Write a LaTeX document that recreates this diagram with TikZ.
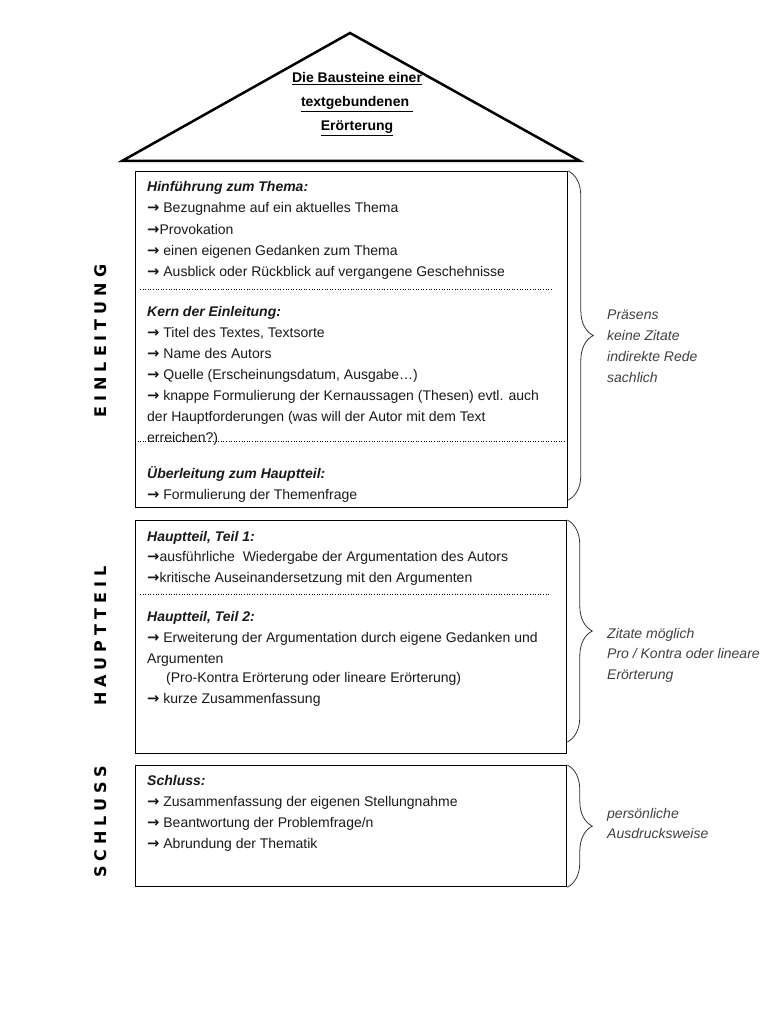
\documentclass[tikz,border=0pt]{standalone}
\usepackage{fontspec}
\setmainfont{Liberation Sans}
\newfontfamily\sidefont[LetterSpace=31, BoldFont={DejaVu Sans Bold}]{DejaVu Sans}
\newfontfamily\arrowfont[Scale=1.05, BoldFont={DejaVu Sans Bold}]{DejaVu Sans}
\newcommand\pfeil{{\arrowfont\bfseries →}}
\usetikzlibrary{decorations.pathreplacing}

\tikzset{
    box/.style={draw, line width=1.3pt, anchor=north west, inner sep=0pt},
    txt/.style={anchor=base west, inner sep=0pt, text=black!90, font=\fontsize{14}{16}\selectfont},
    head/.style={txt, font=\fontsize{14}{16}\selectfont\bfseries\itshape},
    note/.style={txt, text=black!75, font=\fontsize{14}{16}\selectfont\itshape},
    titel/.style={anchor=base, inner sep=0pt, font=\fontsize{14}{16}\selectfont\bfseries},
    side/.style={rotate=90, inner sep=0pt, font=\fontsize{16}{16}\sidefont\bfseries},
    divider/.style={dotted, line width=0.6pt},
    bracket/.style={decorate, decoration={brace, amplitude=25pt}, line width=0.8pt, black!80},
}

\begin{document}
\begin{tikzpicture}[x=1pt, y=-1pt]
    \useasboundingbox (0,0) rectangle (768,1024);

    % roof
    \draw[line width=2.5pt] (122,161) -- (350,33) -- (580,161) -- cycle;
    \node[titel] (t1) at (357,83) {\underline{Die Bausteine einer}};
    \node[titel] (t2) at (357,107) {\underline{textgebundenen\ }};
    \node[titel] (t3) at (357,131) {\underline{Erörterung}};

    % boxes
    \node[box, minimum width=432pt, minimum height=336pt] (einl) at (135,171) {};
    \node[box, minimum width=431pt, minimum height=233pt] (haupt) at (135,520) {};
    \node[box, minimum width=431pt, minimum height=121pt] (schl) at (135,765) {};

    \draw[divider] (140,289) -- (553,289);
    \draw[divider] (135,441) -- (567,441);
    \draw[divider] (140,594) -- (550,594);

    % side labels
    \node[side] (l1) at (101,341) {EINLEITUNG};
    \node[side] (l2) at (101,636) {HAUPTTEIL};
    \node[side] (l3) at (101,822) {SCHLUSS};

    % Einleitung
    \node[head] (h1) at (147,192) {Hinführung zum Thema:};
    \foreach \t [count=\i from 0] in {{\pfeil{} Bezugnahme auf ein aktuelles Thema}, {\pfeil Provokation},
        {\pfeil{} einen eigenen Gedanken zum Thema}, {\pfeil{} Ausblick oder Rückblick auf vergangene Geschehnisse}}
        \node[txt] (hin\i) at (147,213+21*\i) {\t};

    \node[head] (h2) at (147,316) {Kern der Einleitung:};
    \foreach \t [count=\i from 0] in {{\pfeil{} Titel des Textes, Textsorte}, {\pfeil{} Name des Autors},
        {\pfeil{} Quelle (Erscheinungsdatum, Ausgabe…)},
        {\pfeil{} knappe Formulierung der Kernaussagen (Thesen) evtl. auch},
        {der Hauptforderungen (was will der Autor mit dem Text}, {erreichen?)}}
        \node[txt] (kern\i) at (147,337+21*\i) {\t};

    \node[head] (h3) at (147,478) {Überleitung zum Hauptteil:};
    \node[txt] (ueb0) at (147,499) {\pfeil{} Formulierung der Themenfrage};

    % Hauptteil
    \node[head] (h4) at (147,541) {Hauptteil, Teil 1:};
    \node[txt] (ha0) at (147,561) {\pfeil ausführliche\ \ Wiedergabe der Argumentation des Autors};
    \node[txt] (ha1) at (147,582) {\pfeil kritische Auseinandersetzung mit den Argumenten};

    \node[head] (h5) at (147,621) {Hauptteil, Teil 2:};
    \node[txt] (hb0) at (147,642) {\pfeil{} Erweiterung der Argumentation durch eigene Gedanken und};
    \node[txt] (hb1) at (147,663) {Argumenten};
    \node[txt] (hb2) at (166,682) {(Pro-Kontra Erörterung oder lineare Erörterung)};
    \node[txt] (hb3) at (147,703) {\pfeil{} kurze Zusammenfassung};

    % Schluss
    \node[head] (h6) at (147,785) {Schluss:};
    \foreach \t [count=\i from 0] in {{\pfeil{} Zusammenfassung der eigenen Stellungnahme},
        {\pfeil{} Beantwortung der Problemfrage/n}, {\pfeil{} Abrundung der Thematik}}
        \node[txt] (sch\i) at (147,806+21*\i) {\t};

    % braces and notes
    \draw[bracket] (einl.north east) -- (einl.east |- 0,500);
    \draw[bracket] (haupt.north east) -- (haupt.east |- 0,742);
    \draw[bracket] (schl.north east) -- (schl.south east);

    \foreach \t [count=\i from 0] in {Präsens, keine Zitate, indirekte Rede, sachlich}
        \node[note] (n\i) at (607,319+21*\i) {\t};
    \foreach \t [count=\i from 0] in {Zitate möglich, Pro / Kontra oder lineare, Erörterung}
        \node[note] (m\i) at (607,638+20.5*\i) {\t};
    \node[note] (p0) at (607,818) {persönliche};
    \node[note] (p1) at (607,838) {Ausdrucksweise};
\end{tikzpicture}
\end{document}
